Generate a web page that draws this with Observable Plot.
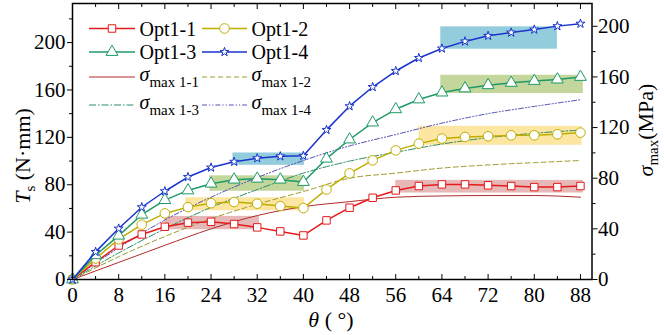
<!DOCTYPE html>
<html><head><meta charset="utf-8">
<script src="https://cdn.jsdelivr.net/npm/d3@7"></script>
<script src="https://cdn.jsdelivr.net/npm/@observablehq/plot@0.6"></script>
<style>body{margin:0;background:#fff;} svg{font-family:"Liberation Serif","Times New Roman",serif;}</style>
</head><body><div id="chart"></div>
<script>
// ---------- data ----------
const theta = [0,4,8,12,16,20,24,28,32,36,40,44,48,52,56,60,64,68,72,76,80,84,88];
const opt1 = [0,14.6,28.7,38,44.5,48,48.7,46.8,44,40.6,37.2,49.9,60.6,69,75.2,78.9,80.3,80.3,79.5,78.9,78,78,78.9];
const opt2 = [0,17.7,34,46.3,55.8,61.1,64.4,65.4,64,62,60.3,76,89.6,100.6,109,114.7,119,120.3,120.9,121.7,121.7,122.6,124];
const opt3 = [0,20.5,37,54.7,67,75.2,80.9,84.3,85.1,84.3,82.3,102,118.2,132.5,143.7,152,157.8,161.3,164,166,167.6,168.8,171];
const opt4 = [0,23.3,43,61,74.5,86.5,94.5,99.4,102.4,104,104.4,126.3,146.3,162.5,176,187,195,201,205.7,208.5,211,213.9,216];
const optNames = ["Opt1-1","Opt1-2","Opt1-3","Opt1-4"];

const thetaS = [0,8,16,24,32,40,48,56,64,72,80,88];
const sig1 = [0,13.5,27,40,50.5,57.5,61.5,65,66,66.3,66.3,65];
const sig2 = [0,18,34,48,59.5,69.5,80,84,88,90.5,92.3,94];
const sig3 = [0,21,40,57,71,84,93.5,100.5,107,112,115.5,118];
const sig4 = [0,25,47,65,80.5,94,105.5,114.5,123.5,131,136.7,142];
const sigNames = ["max1-1","max1-2","max1-3","max1-4"];

// highlight bands (left-axis units)
const bandX1 = [27.8,63.8,23.8,63.8,19.6,60,16,56];
const bandX2 = [40.2,84,40.2,88.5,40.2,88.3,32.4,88.5];
const bandY1 = [96.4,194.4,74.5,157,58,113.3,42,73];
const bandY2 = [106.8,213.3,87.5,172.4,69,129.3,53.3,83.7];
const bandColors = ["#93cddd","#93cddd","#c3d69b","#c3d69b","#fde6a2","#fde6a2","#e6b9b8","#e6b9b8"];

const xMajor = [0,8,16,24,32,40,48,56,64,72,80,88];
const xMinor = [4,12,20,28,36,44,52,60,68,76,84];
const yMajor = [0,40,80,120,160,200];
const yMinor = [20,60,100,140,180,220];
const rMajor = [0,40,80,120,160,200];
const rMinor = [20,60,100,140,180];

const leftMax = 233, rightMax = 218;
const K = leftMax / rightMax;

// ---------- styles ----------
const optColors = ["#e41a1c","#bfae00","#1f9a66","#1a33cc"];
const optSymbols = ["square","circle","triangle","star"];
const optR = [4.2,4.8,4.4,2.8];
const sigColors = ["#b22b2b","#9f9a2c","#2e8b66","#5252b6"];
const sigDash = [null,"5,3","7,2,1.5,2","5,2,1.2,2,1.2,2"];

const optData = [opt1,opt2,opt3,opt4].map((vals,i)=>vals.map((v,j)=>({name:optNames[i], x:theta[j], y:v})));
const sigData = [sig1,sig2,sig3,sig4].map((vals,i)=>vals.map((v,j)=>({name:sigNames[i], x:thetaS[j], v})));
const bands = bandX1.map((x1,i)=>({x1, x2:bandX2[i], y1:bandY1[i], y2:bandY2[i], c:bandColors[i]}));

const marks = [
  Plot.rect(bands, {x1:"x1", x2:"x2", y1:"y1", y2:"y2", fill:d=>d.c})
];
sigData.forEach((d,i)=>marks.push(Plot.line(d, {x:"x", y:p=>p.v*K, stroke:sigColors[i], strokeWidth:1, strokeDasharray:sigDash[i], curve:"monotone-x"})));
optData.forEach((d,i)=>{
  marks.push(Plot.line(d, {x:"x", y:"y", stroke:optColors[i], strokeWidth:1.5}));
  marks.push(Plot.dot(d, {x:"x", y:"y", symbol:optSymbols[i], r:optR[i], stroke:optColors[i], fill:"white", strokeWidth:1}));
});
marks.push(
  Plot.axisX(xMajor, {anchor:"bottom", tickSize:-5, tickPadding:13, fontSize:21, label:null}),
  Plot.axisX(xMinor, {anchor:"bottom", tickSize:-3, text:null, label:null}),
  Plot.axisX(xMajor, {anchor:"top", tickSize:-5, text:null, label:null}),
  Plot.axisX(xMinor, {anchor:"top", tickSize:-3, text:null, label:null}),
  Plot.axisY(yMajor, {anchor:"left", tickSize:5, tickPadding:2, fontSize:21, label:null}),
  Plot.axisY(yMinor, {anchor:"left", tickSize:3, text:null, label:null}),
  Plot.axisY(rMajor.map(v=>v*K), {anchor:"right", tickSize:5, tickPadding:1, fontSize:21, tickFormat:d=>String(Math.round(d/K)), label:null}),
  Plot.axisY(rMinor.map(v=>v*K), {anchor:"right", tickSize:3, text:null, label:null}),
  Plot.frame({stroke:"black", strokeWidth:1.5})
);

const chart = Plot.plot({
  width:664, height:335,
  marginLeft:72, marginRight:72.5, marginTop:3, marginBottom:56,
  style:{fontFamily:"Liberation Serif, Times New Roman, serif", fontSize:"21px", color:"black", background:"white"},
  x:{domain:[0,90]},
  y:{domain:[0,leftMax]},
  marks
});
document.getElementById("chart").appendChild(chart);

// ---------- titles & legend ----------
const svg = d3.select(chart);
const font = "Liberation Serif, Times New Roman, serif";

// x title
const xt = svg.append("text").attr("x",331).attr("y",327).attr("text-anchor","middle")
  .attr("font-family",font).attr("font-size",22).attr("fill","black");
xt.append("tspan").attr("font-style","italic").text("θ");
xt.append("tspan").text(" ( °)");

// left title
const lt = svg.append("text").attr("transform","translate(30,156) rotate(-90)").attr("text-anchor","middle")
  .attr("font-family",font).attr("font-size",22).attr("fill","black");
lt.append("tspan").attr("font-style","italic").text("T");
lt.append("tspan").attr("font-size",15).attr("dy",5).text("s");
lt.append("tspan").attr("dy",-5).text(" (N·mm)");

// right title
const rt = svg.append("text").attr("transform","translate(653,130) rotate(-90)").attr("text-anchor","middle")
  .attr("font-family",font).attr("font-size",22).attr("fill","black");
rt.append("tspan").attr("font-style","italic").text("σ");
rt.append("tspan").attr("font-size",15).attr("dy",5).text("max");
rt.append("tspan").attr("dy",-5).text("(MPa)");

// legend
const lg = svg.append("g").attr("font-family",font).attr("fill","black").attr("text-anchor","start");
const col = [[89,135,139.5],[202,247,251.5]];
const symGen = [d3.symbolSquare,d3.symbolCircle,d3.symbolTriangle,d3.symbolStar];
const rowY = [28.5, 52];
optNames.forEach((n,i)=>{
  const c = col[i%2], y = rowY[Math.floor(i/2)];
  lg.append("line").attr("x1",c[0]).attr("x2",c[1]).attr("y1",y).attr("y2",y).attr("stroke",optColors[i]).attr("stroke-width",1.5);
  lg.append("path").attr("d",d3.symbol(symGen[i], Math.PI*optR[i]*optR[i])()).attr("transform",`translate(${(c[0]+c[1])/2},${y})`)
    .attr("fill","white").attr("stroke",optColors[i]);
  lg.append("text").attr("text-anchor","start").attr("x",c[2]).attr("y",y+7).attr("font-size",20).text(n);
});
const sRowY = [77, 105];
sigNames.forEach((n,i)=>{
  const c = col[i%2], y = sRowY[Math.floor(i/2)];
  lg.append("line").attr("x1",c[0]).attr("x2",c[1]).attr("y1",y).attr("y2",y).attr("stroke",sigColors[i]).attr("stroke-width",1)
    .attr("stroke-dasharray",sigDash[i]);
  const t = lg.append("text").attr("text-anchor","start").attr("x",c[2]).attr("y",y+4).attr("font-size",20);
  t.append("tspan").attr("font-style","italic").text("σ");
  t.append("tspan").attr("font-size",15).attr("dy",6).text(n.replace("max","max "));
});
</script>
</body></html>
